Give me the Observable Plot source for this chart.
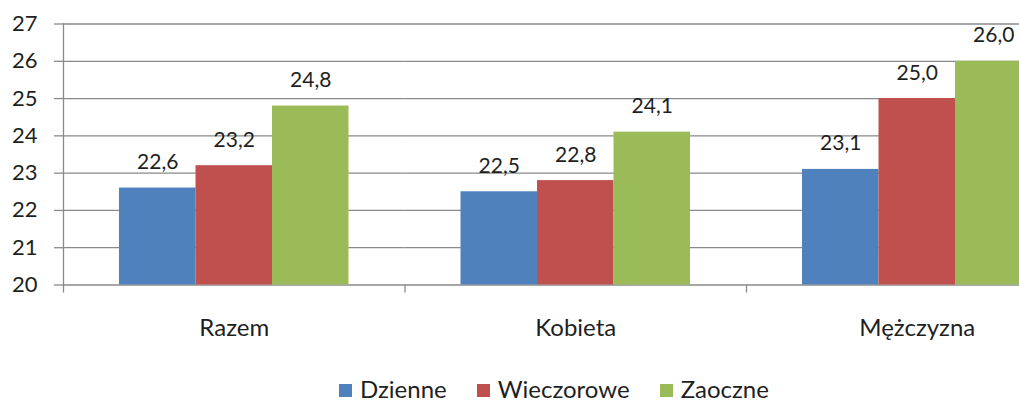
<!DOCTYPE html>
<html>
<head>
<meta charset="utf-8">
<script src="https://cdn.jsdelivr.net/npm/d3@7"></script>
<script src="https://cdn.jsdelivr.net/npm/@observablehq/plot@0.6"></script>
<style>
  html, body { margin: 0; padding: 0; background: #fff; }
  #wrap { position: relative; width: 1019px; height: 403px; overflow: hidden; font-family: Lato, "Open Sans", sans-serif; color: #1f1f1f; }
  #wrap svg { position: absolute; left: 0; top: 0; overflow: hidden; }
  #legend { position: absolute; left: 339px; top: 377px; display: flex; align-items: center; font-size: 24px; line-height: 24px; }
  #legend .item { display: flex; align-items: center; margin-right: 30px; }
  #legend .sw { width: 13px; height: 13px; margin-right: 8px; margin-top: 3px; }
</style>
</head>
<body>
<div id="wrap"></div>
<script>
const categories = ["Razem", "Kobieta", "Mężczyzna"];
const series = ["Dzienne", "Wieczorowe", "Zaoczne"];
const colors = ["#4f81bd", "#c0504d", "#9bbb59"];
const dzienne = [22.6, 22.5, 23.1];
const wieczorowe = [23.2, 22.8, 25.0];
const zaoczne = [24.8, 24.1, 26.0];
const yTicks = [20, 21, 22, 23, 24, 25, 26, 27];

const valuesBySeries = [dzienne, wieczorowe, zaoczne];
const data = [];
categories.forEach((c, i) => {
  series.forEach((s, j) => {
    data.push({cat: c, series: s, value: valuesBySeries[j][i]});
  });
});

const fxRange = [63, 1087.5];
const halfBand = (fxRange[1] - fxRange[0]) / categories.length / 2;
const fmt = v => v.toFixed(1).replace(".", ",");

const chart = Plot.plot({
  width: 1019,
  height: 372,
  marginTop: 23.5,
  marginBottom: 87.5,
  marginLeft: 63,
  marginRight: 0,
  style: {fontFamily: "Lato, 'Open Sans', sans-serif", color: "#1f1f1f", background: "transparent"},
  fx: {domain: categories, range: fxRange, padding: 0, round: false, label: null},
  x: {domain: series, paddingInner: 0, paddingOuter: 0.732, round: false, axis: null},
  y: {domain: [20, 27], label: null},
  color: {domain: series, range: colors},
  marks: [
    Plot.gridY(yTicks, {stroke: "#8a8a8a", strokeOpacity: 1, strokeWidth: 1.3}),
    Plot.frame({anchor: "left", facet: "super", stroke: "#8a8a8a", strokeWidth: 1.3}),
    Plot.barY(data, {fx: "cat", x: "series", y1: 20, y2: "value", fill: "series"}),
    Plot.text(data, {fx: "cat", x: "series", y: "value", text: d => fmt(d.value), lineAnchor: "bottom", dy: -19, fontSize: 21, fill: "#1f1f1f"}),
    Plot.axisY({ticks: yTicks, tickSize: 9, tickPadding: 17, fontSize: 22, label: null, stroke: "#8a8a8a", fill: "#1f1f1f", strokeWidth: 1.3, tickFormat: d => String(d)}),
    Plot.axisFx({anchor: "bottom", tickSize: 8, text: null, dx: -halfBand, label: null, stroke: "#8a8a8a", strokeWidth: 1.3}),
    Plot.axisFx({anchor: "bottom", tickSize: 0, tickPadding: 34, fontSize: 24, label: null, fill: "#1f1f1f"})
  ]
});
const wrap = document.getElementById("wrap");
wrap.appendChild(chart);

const legend = document.createElement("div");
legend.id = "legend";
series.forEach((s, j) => {
  const item = document.createElement("div");
  item.className = "item";
  const sw = document.createElement("div");
  sw.className = "sw";
  sw.style.background = colors[j];
  const t = document.createElement("span");
  t.textContent = s;
  item.appendChild(sw);
  item.appendChild(t);
  legend.appendChild(item);
});
wrap.appendChild(legend);
</script>
</body>
</html>
